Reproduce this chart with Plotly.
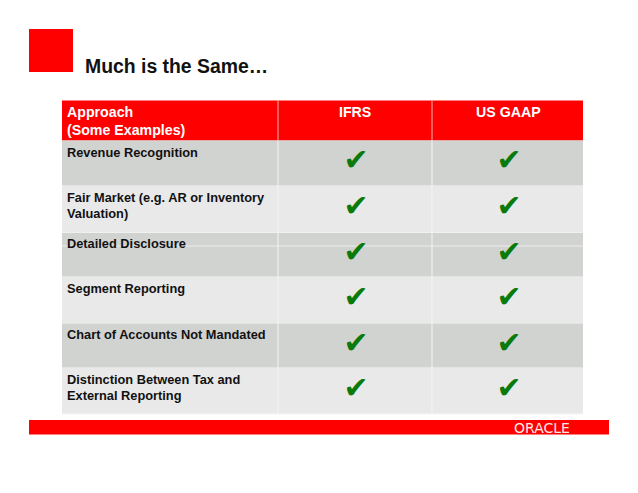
import plotly.graph_objects as go

title = "Much is the Same…"
brand = "ORACLE"
columns = ["IFRS", "US GAAP"]
header_lines = ["Approach", "(Some Examples)"]
approaches = [
    ["Revenue Recognition"],
    ["Fair Market (e.g. AR or Inventory", "Valuation)"],
    ["Detailed Disclosure"],
    ["Segment Reporting"],
    ["Chart of Accounts Not Mandated"],
    ["Distinction Between Tax and", "External Reporting"],
]
ifrs = ["✔"] * 6
us_gaap = ["✔"] * 6

RED = "#FE0000"
DARK = "#D1D3D0"
LIGHT = "#E9E9E9"
INK = "#111111"
GREEN = "#0A7A0A"
W, H = 638, 493
LEFT, RIGHT = 62, 583
dividers = [278, 432]
col_centers = [356, 509]
row_edges = [140.5, 186, 233, 277, 323.5, 368, 414]
row_text_y = [152.5, 197.5, 243, 288.5, 334, 379.5]
check_y = [162, 208, 254, 299, 345, 390]
row_fill = [DARK, LIGHT, DARK, LIGHT, DARK, LIGHT]

fig = go.Figure()


def rect(x0, y0, x1, y1, color):
    fig.add_shape(type="rect", x0=x0, x1=x1, y0=y0, y1=y1, fillcolor=color, line_width=0, layer="below")


def line(x0, y0, x1, y1, color):
    fig.add_shape(type="line", x0=x0, x1=x1, y0=y0, y1=y1, line=dict(color=color, width=1), layer="below")


def label(x, y, text, size, color=INK, anchor="left", family="Liberation Sans"):
    fig.add_annotation(x=x, y=y, text=text, xanchor=anchor, yanchor="middle", showarrow=False,
                       font=dict(family=family, size=size, color=color))


rect(29, 29, 73, 72, RED)
rect(29, 420, 609, 434.5, RED)
rect(LEFT, 100.5, RIGHT, row_edges[0], RED)
for top, bottom, fill in zip(row_edges, row_edges[1:], row_fill):
    rect(LEFT, top, RIGHT, bottom, fill)
    line(LEFT, bottom, RIGHT, bottom, "#F6F6F6")
line(LEFT, 246, RIGHT, 246, "#EDEDED")
for x in dividers:
    line(x, 100.5, x, row_edges[0], "#F7B5B5")
    line(x, row_edges[0], x, row_edges[-1], "#F4F4F4")

label(83, 65.5, f"<b>{title}</b>", 19.4)
for i, text in enumerate(header_lines):
    label(65, 112 + i * 18, f"<b>{text}</b>", 14.2, "white")
for x, text in zip(col_centers, columns):
    label(x - 1, 112, f"<b>{text}</b>", 14.2, "white", "center")
for y, lines in zip(row_text_y, approaches):
    for i, text in enumerate(lines):
        label(65, y + i * 15.5, f"<b>{text}</b>", 12.8)
label(541.5, 427.5, brand, 14, "#F6E9E9", "center", "DejaVu Sans")

for x, marks in zip(col_centers, [ifrs, us_gaap]):
    fig.add_trace(go.Scatter(x=[x] * len(marks), y=check_y, text=marks, mode="text",
                             textposition="middle center", hoverinfo="skip",
                             textfont=dict(family="DejaVu Sans", size=30, color=GREEN)))

fig.update_layout(width=W, height=H, margin=dict(l=0, r=0, t=0, b=0),
                  paper_bgcolor="white", plot_bgcolor="white", showlegend=False,
                  xaxis=dict(range=[0, W], visible=False),
                  yaxis=dict(range=[H, 0], visible=False))
fig.write_html("out.html", config=dict(displayModeBar=False),
               post_script="document.body.style.margin='0';")
